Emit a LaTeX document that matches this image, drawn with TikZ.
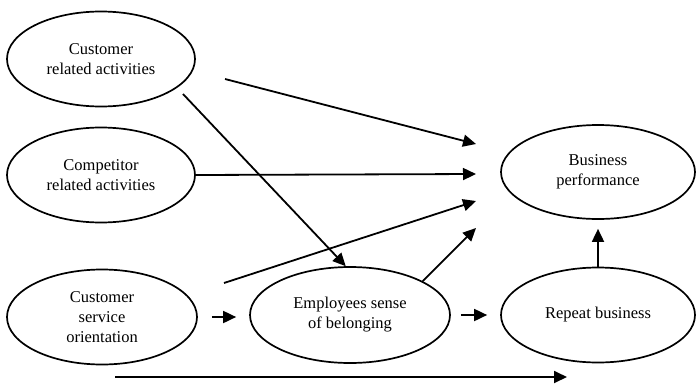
\documentclass[tikz,border=0pt]{standalone}
\usepackage{fontspec}
\setmainfont{Liberation Serif}
\usetikzlibrary{shapes.geometric,arrows.meta}
\tikzset{
	factor/.style={draw, ellipse, line width=1.7pt, inner sep=0pt, align=center,
		font=\fontsize{16.5}{20}\selectfont},
	link/.style={line width=1.8pt, -{Triangle[length=13pt,width=12pt]}}
}
\begin{document}
\begin{tikzpicture}[x=1pt, y=-1pt]
			\useasboundingbox (0,0) rectangle (698,383);

			\node [factor, minimum width=188pt, minimum height=95pt] (cra) at (101,59) {Customer\\related activities};
			\node [factor, minimum width=188pt, minimum height=95pt] (cpa) at (101,175) {Competitor\\related activities};
			\node [factor, minimum width=190pt, minimum height=95pt] (cso) at (102,317) {Customer\\service\\orientation};
			\node [factor, minimum width=200pt, minimum height=96pt] (ebl) at (350,315) {Employees sense\\of belonging};
			\node [factor, minimum width=194pt, minimum height=94pt] (bpf) at (598,172) {Business\\performance};
			\node [factor, minimum width=194pt, minimum height=95pt] (rpb) at (598,315) {Repeat business};

			% free ends of the arrows
			\coordinate (s1) at (225,79);
			\coordinate (t1) at (476,144);
			\coordinate (s2) at (183,94);
			\coordinate (t3) at (476,174);
			\coordinate (s4) at (224,283);
			\coordinate (t4) at (476,201);
			\coordinate (t5) at (476,228);
			\coordinate (s9) at (115,377);
			\coordinate (t9) at (567,377);

			\draw [link] (s1) -- (t1);
			\draw [link] (s2) -- (ebl.95);
			\draw [link] (cpa.east) -- (t3);
			\draw [link] (s4) -- (t4);
			\draw [link] (ebl.25) -- (t5);
			\draw [link, shorten <=14pt, shorten >=13pt] (cso.east) -- (cso.east -| ebl.west);
			\draw [link, shorten <=10pt, shorten >=13pt] (ebl.east) -- (rpb.west);
			\draw [link, shorten >=9pt] (rpb.north) -- (bpf.south);
			\draw [link] (s9) -- (t9);
		\end{tikzpicture}
\end{document}
